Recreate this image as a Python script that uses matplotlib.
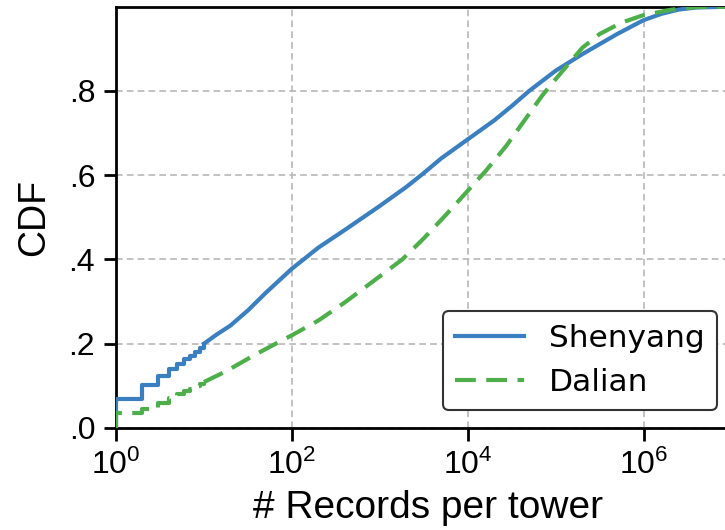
import matplotlib
matplotlib.use("Agg")
import matplotlib.pyplot as plt
from matplotlib.ticker import NullLocator

# Shenyang: discrete part (integer counts) then smooth part
sy_step_x = [1, 1, 2, 3, 4, 5, 6, 7, 8, 9, 10]
sy_step_y = [0.0, 0.068, 0.103, 0.124, 0.139, 0.152, 0.163, 0.172, 0.180, 0.190, 0.200]
sy_x = [10, 14, 20, 32, 50, 100, 200, 400, 1000, 2000, 3160, 5000, 1e4, 2e4,
        31600, 5e4, 1e5, 2e5, 3.16e5, 5e5, 1e6, 1.6e6, 2.5e6, 4e6, 1e7]
sy_y = [0.200, 0.222, 0.243, 0.280, 0.320, 0.378, 0.428, 0.470, 0.527, 0.572,
        0.605, 0.640, 0.685, 0.730, 0.764, 0.800, 0.848, 0.887, 0.911, 0.935,
        0.968, 0.983, 0.993, 0.998, 1.0]

# Dalian
dl_step_x = [1, 1, 2, 3, 4, 5, 6, 7, 8, 9, 10]
dl_step_y = [0.0, 0.036, 0.044, 0.060, 0.072, 0.080, 0.087, 0.093, 0.099, 0.104, 0.109]
dl_x = [10, 18, 36, 74, 100, 200, 400, 1000, 1800, 3160, 5600, 1e4, 1.6e4, 27500,
        47000, 70800, 1e5, 2e5, 3.16e5, 5.6e5, 1e6, 2.1e6, 4e6, 1e7]
dl_y = [0.109, 0.135, 0.171, 0.206, 0.220, 0.255, 0.298, 0.360, 0.400, 0.450,
        0.505, 0.563, 0.610, 0.670, 0.738, 0.790, 0.828, 0.902, 0.935, 0.962,
        0.980, 0.993, 0.999, 1.0]

xticks = [1, 1e2, 1e4, 1e6]
xticklabels = ["$10^0$", "$10^2$", "$10^4$", "$10^6$"]
yticks = [0.0, 0.2, 0.4, 0.6, 0.8]
yticklabels = [".0", ".2", ".4", ".6", ".8"]

blue = "#3a7fc0"
green = "#4daf4a"

plt.rcParams["mathtext.fontset"] = "custom"
plt.rcParams["mathtext.rm"] = "Liberation Sans"
plt.rcParams["mathtext.it"] = "Liberation Sans"

fig = plt.figure(figsize=(7.25, 5.3), dpi=100)
ax = fig.add_axes([0.16, 0.1925, 0.86, 0.795])

ax.plot(sy_step_x, sy_step_y, color=blue, lw=3, drawstyle="steps-post", zorder=3)
ax.plot(sy_x, sy_y, color=blue, lw=3, label="Shenyang", zorder=3)
ax.plot(dl_step_x, dl_step_y, color=green, lw=3, drawstyle="steps-post",
        dashes=(5, 2.5), zorder=3)
ax.plot(dl_x, dl_y, color=green, lw=3, dashes=(5, 2.5), label="Dalian", zorder=3)

ax.set_xscale("log")
ax.set_xlim(1, 1.23e7)
ax.set_ylim(0, 1.0)
ax.set_xticks(xticks)
ax.set_xticklabels(xticklabels)
ax.xaxis.set_minor_locator(NullLocator())
ax.set_yticks(yticks)
ax.set_yticklabels(yticklabels)

for lab in ax.get_xticklabels() + ax.get_yticklabels():
    lab.set_fontfamily("Liberation Sans")
    lab.set_fontsize(23)
ax.tick_params(axis="both", length=9, width=2, direction="out", pad=6)
ax.tick_params(axis="x", pad=7)

ax.grid(True, linestyle="--", color="#b8b8b8", lw=1.2, dashes=(4, 2.5))
ax.set_axisbelow(True)
ax.spines["right"].set_visible(False)
for s in ["left", "bottom", "top"]:
    ax.spines[s].set_linewidth(2)

ax.set_xlabel("# Records per tower", fontsize=28, family="Liberation Sans", labelpad=6)
ax.set_ylabel("CDF", fontsize=27, family="Liberation Sans", labelpad=12)

leg = ax.legend(loc="lower right", bbox_to_anchor=(0.964, 0.043), bbox_transform=ax.transAxes,
                prop={"family": "DejaVu Sans", "size": 22.5}, handlelength=2.2,
                frameon=True, fancybox=True, framealpha=1, borderaxespad=0)
leg.get_frame().set_edgecolor("#333333")
leg.get_frame().set_linewidth(1.5)

fig.savefig("out.png", dpi=100)
